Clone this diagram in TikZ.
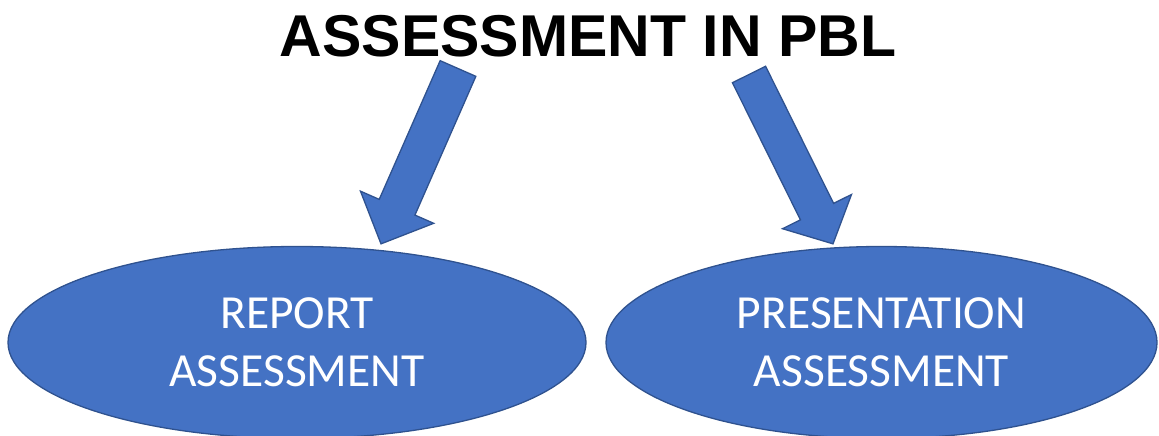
\documentclass[tikz,border=0pt]{standalone}
\usepackage{fontspec}
\newfontfamily\headfont{Liberation Sans}
\newfontfamily\ovalfont{Carlito}
\usetikzlibrary{positioning}
\usetikzlibrary{calc}
\usetikzlibrary{shapes.geometric}
\definecolor{pblblue}{HTML}{4472C4}
\definecolor{pblline}{HTML}{2F528F}
\tikzset{assessoval/.style={ellipse,draw=pblline,fill=pblblue,line width=1.3pt,
inner sep=0pt,text=white,align=center,
font=\ovalfont\fontsize{47.5pt}{58pt}\selectfont}}
\tikzset{blockarrow/.style={draw=pblline,fill=pblblue,line width=1.3pt,line join=miter}}
\tikzset{pbltitle/.style={anchor=base,inner sep=0pt,
font=\headfont\bfseries\fontsize{59pt}{61pt}\selectfont}}

% tail, tip, half shaft width, half head width, head length
\newcommand{\blockarrow}[5]{%
  \coordinate (#1hb) at ($(#2)!#5!(#1)$);
  \draw[blockarrow] ($(#1)!#3!90:(#2)$) -- ($(#1hb)!#3!-90:(#1)$)
    -- ($(#1hb)!#4!-90:(#1)$) -- (#2) -- ($(#1hb)!#4!90:(#1)$)
    -- ($(#1hb)!#3!90:(#1)$) -- ($(#1)!#3!-90:(#2)$) -- cycle;}

\begin{document}
\begin{tikzpicture}[x=1pt,y=-1pt]
    \useasboundingbox (0,0) rectangle (1159,436);

        \node[assessoval,minimum width=578pt,minimum height=192pt] (report) at (297,342.5) {REPORT\\ASSESSMENT};
        \node[assessoval,minimum width=551pt,minimum height=192pt] (present) at (881.5,342.5) {PRESENTATION\\ASSESSMENT};

        \node[pbltitle] (title) at (588,57) {ASSESSMENT IN PBL};

        \coordinate (repTail) at (458,68.5);
        \coordinate (repTip) at ([xshift=84pt,yshift=2pt]report.north);
        \blockarrow{repTail}{repTip}{19.5pt}{40pt}{40pt}

        \coordinate (preTail) at (749,74.5);
        \coordinate (preTip) at ([xshift=-48.5pt,yshift=2pt]present.north);
        \blockarrow{preTail}{preTip}{18.5pt}{38.5pt}{36pt}

\end{tikzpicture}
\end{document}
